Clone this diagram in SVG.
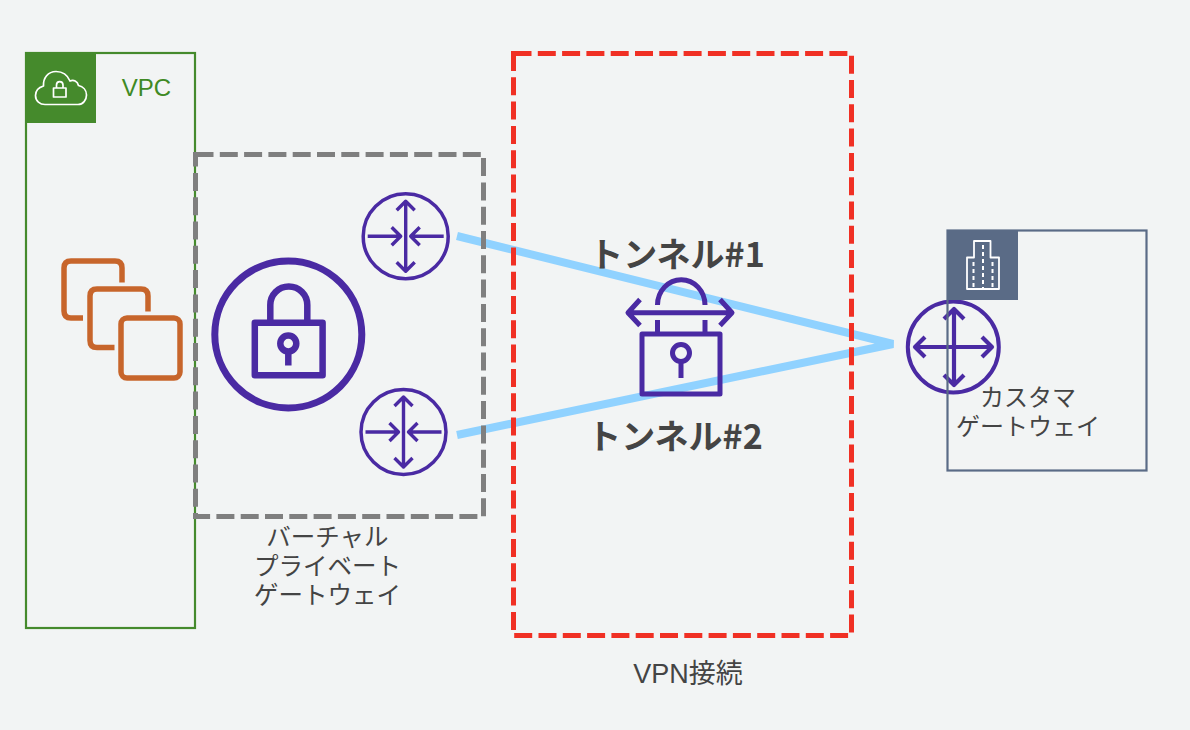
<svg xmlns="http://www.w3.org/2000/svg" width="1190" height="730" viewBox="0 0 1190 730">
<style>
.p{fill:none;stroke:#4a2aa3;stroke-linejoin:round}
.t{font-family:"Liberation Sans","Noto Sans CJK JP",sans-serif;font-size:24.500px;fill:#444;text-anchor:middle}
.b{font-family:"Noto Sans CJK JP",sans-serif;font-size:34px;font-weight:700;fill:#444;text-anchor:middle}
.w{fill:none;stroke:#fff;stroke-linejoin:round}
.o{fill:none;stroke:#c7652b;stroke-width:5.500;stroke-linejoin:round}
.d{fill:none;stroke-width:5;stroke-dasharray:18 6.300}
</style>
<defs>
<g id="in" class="p" stroke-width="3.400">
<path d="M0-35V35M-9-26L0-35L9-26M-9 26L0 35L9 26"/>
<path d="M-38 0H-6M-14-9L-5 0L-14 9M38 0H6M14-9L5 0L14 9"/>
</g>
</defs>
<rect width="1190" height="730" fill="#f2f4f4"/>
<g id="vpc">
<rect x="26" y="53" width="169" height="575" fill="none" stroke="#458a2c" stroke-width="2.200"/>
<rect x="25" y="52" width="71" height="71" fill="#458a2c"/>
<path class="w" stroke-width="1.700" d="M45 104.500H78C83 104.500 86.500 100 86.500 95C86.500 90 83 86.500 78.500 85.500C77.500 81 73.500 79.500 70 81C67.500 75 62 71.500 56 71.500C48 71.500 43 78 43.500 86C38.500 87.500 35.500 91 35.500 95.500C35.500 101 40 104.500 45 104.500Z"/>
<path class="w" stroke-width="1.700" d="M53.500 88H66V97H53.500ZM56.500 88V85C56.500 80.500 63 80.500 63 85V88"/>
<text class="t" x="146.500" y="96" style="fill:#3f8a24;font-size:24px">VPC</text>
<path class="o" d="M83 318H71Q64 318 64 311V268Q64 261 71 261H115Q122 261 122 268V282.500"/>
<path class="o" d="M114.500 347.500H97Q90 347.500 90 340.500V296Q90 289 97 289H141Q148 289 148 296V311.500"/>
<rect class="o" x="121" y="318" width="59" height="60" rx="6"/>
</g>
<g id="connectors">
<path d="M457 236L893 344L457 435" fill="none" stroke="#90d2ff" stroke-width="8" stroke-linejoin="bevel"/>
</g>
<g id="vgw">
<rect class="d" x="195.500" y="154.500" width="288" height="362" stroke="#7f7f7f"/>
<circle class="p" cx="288.300" cy="334.500" r="73.500" stroke-width="7"/>
<rect class="p" x="254.800" y="322.800" width="67.800" height="52.500" stroke-width="6.500"/>
<path class="p" stroke-width="6.500" d="M270.300 320V305A18.500 18.500 0 0 1 307.300 305V320"/>
<circle class="p" cx="288.300" cy="343.500" r="8" stroke-width="6.500"/>
<path class="p" stroke-width="6.500" stroke-linejoin="miter" d="M288.300 351V365.500"/>
<text class="t"><tspan x="327.500" y="546">バーチャル</tspan><tspan x="327.500" y="575">プライベート</tspan><tspan x="327.500" y="604">ゲートウェイ</tspan></text>
</g>
<g id="router1">
<circle class="p" cx="405.700" cy="236.300" r="42.500" stroke-width="3.500"/>
<use href="#in" x="405.700" y="236.300"/>
</g>
<g id="router2">
<circle class="p" cx="403.500" cy="432" r="42.500" stroke-width="3.500"/>
<use href="#in" x="403.500" y="432"/>
</g>
<g id="vpn">
<rect class="d" x="513.500" y="53.500" width="338" height="582" stroke="#f03024"/>
<path class="p" stroke-width="5" d="M628 312.700H732M640 299.500L628 312.700L640 325.500M720 299.500L732 312.700L720 325.500"/>
<path class="p" stroke-width="5" d="M657.500 305A23.500 25 0 0 1 705 305"/>
<path class="p" stroke-width="5" d="M657.500 320V333M705 320V333"/>
<rect class="p" x="642" y="334" width="78" height="60" stroke-width="5"/>
<circle class="p" cx="681" cy="353" r="8.500" stroke-width="5"/>
<path class="p" stroke-width="5" d="M681 362V378"/>
<text class="b" x="677" y="267">トンネル#1</text>
<text class="b" x="675" y="449">トンネル#2</text>
<text class="t" x="688" y="683" style="font-size:27px">VPN接続</text>
</g>
<g id="customer">
<circle class="p" cx="953.300" cy="347" r="45.500" stroke-width="4"/>
<path class="p" stroke-width="4.200" d="M954 310V384M944 319L954 309L964 319M944 375L954 385L964 375M915 347H992M925 337L915 347L925 357M982 337L992 347L982 357"/>
<rect x="947.500" y="230.500" width="199" height="240" fill="none" stroke="#5a6b86" stroke-width="2.200"/>
<rect x="947" y="230" width="71" height="70" fill="#5a6b86"/>
<path class="w" stroke-width="1.800" d="M967 289V257.500H974V241H990.500V257.500H999V289Z"/>
<path class="w" stroke-width="2" stroke-dasharray="4 3" d="M973.500 262V288M983 245V288M992.500 262V288"/>
<text class="t" style="font-size:24px"><tspan x="1028" y="406">カスタマ</tspan><tspan x="1028" y="435">ゲートウェイ</tspan></text>
</g>
</svg>
